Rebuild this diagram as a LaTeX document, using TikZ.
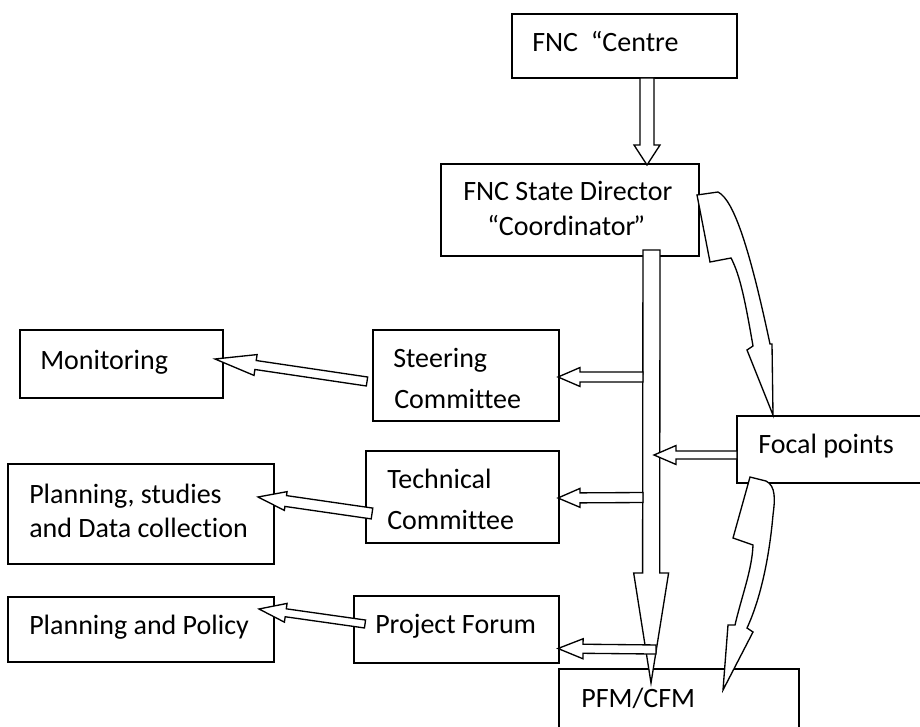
\documentclass[tikz,border=0pt]{standalone}
\usepackage{fontspec}
\setmainfont{Carlito}[Ligatures={NoCommon}]
\usetikzlibrary{calc,fit}
\newcommand\barrow[5]{%
  \coordinate (bah) at ($(#2)!#5!(#1)$);
  \draw[arrowbody] ($(#1)!#3!90:(#2)$) -- ($(bah)!#3!90:(#2)$) -- ($(bah)!#4!90:(#2)$) -- (#2) -- ($(bah)!#4!-90:(#2)$) -- ($(bah)!#3!-90:(#2)$) -- ($(#1)!#3!-90:(#2)$) -- cycle;}
\begin{document}
\begin{tikzpicture}[x=0.75pt,y=-0.75pt,
  box/.style={draw=black,line width=1pt,inner sep=0pt,fill=white},
  label/.style={inner sep=0pt,anchor=base west,font=\fontsize{21}{25}\selectfont},
  arrowbody/.style={draw=black,line width=1pt,fill=white,line join=miter}]
\useasboundingbox (0,0) rectangle (920,727);
% boxes
\node[box,fit={(512,14) (737,78)}] (centre) {};
\node[box,fit={(441,164) (699,256)}] (director) {};
\node[box,fit={(373,330) (559,421)}] (steering) {};
\node[box,fit={(366,451) (559,543)}] (technical) {};
\node[box,fit={(354,596) (559,663)}] (forum) {};
\node[box,fit={(20,330) (223,398)}] (monitoring) {};
\node[box,fit={(8,464) (274,564)}] (planstud) {};
\node[box,fit={(8,597) (274,662)}] (planpol) {};
\node[box,fit={(737,416) (935,483)}] (focal) {};
\node[box,fit={(559,669) (799,745)}] (pfm) {};
% texts
\node[label] (t-centre) at (532,52) {FNC \ “Centre};
\node[label] (t-dir1) at (463,201) {FNC State Director};
\node[label] (t-dir2) at (487,236) {“Coordinator\kern-1.5pt”};
\node[label] (t-st1) at (393,367) {Steering};
\node[label] (t-st2) at (394,408) {Committee};
\node[label] (t-te1) at (387,488) {Technical};
\node[label] (t-te2) at (387,529) {Committee};
\node[label] (t-pf) at (375,633) {Project Forum};
\node[label] (t-mon) at (40,369) {Monitoring};
\node[label] (t-ps1) at (29,503) {Planning, studies};
\node[label] (t-ps2) at (29,537) {and Data collection};
\node[label] (t-pp) at (29,634) {Planning and Policy};
\node[label] (t-foc) at (758,453) {Focal points};
\node[label] (t-pfm) at (581,707) {PFM/CFM};
% connector end points
\coordinate (a1s) at (647,78);     \coordinate (a1e) at (647,165);
\coordinate (mvs) at (651.5,250);  \coordinate (mve) at (651,683);
\coordinate (sts) at (643,377);    \coordinate (ste) at (558,377);
\coordinate (tes) at (643,497.5);  \coordinate (tee) at (558,498);
\coordinate (pfs) at (656,649.5);  \coordinate (pfe) at (558,648.5);
\coordinate (fos) at (737,455);    \coordinate (foe) at (654,455);
\coordinate (mos) at (367,381.5);  \coordinate (moe) at (215,359);
\coordinate (tls) at (372,513.5);  \coordinate (tle) at (258,497);
\coordinate (pls) at (365,624);    \coordinate (ple) at (259,609);
% block arrows
\barrow{a1s}{a1e}{5.25pt}{9.75pt}{15pt}
\barrow{mvs}{mve}{6.4pt}{13.1pt}{82.5pt}
\barrow{sts}{ste}{3.75pt}{7.1pt}{16.5pt}
\barrow{tes}{tee}{3.75pt}{7.1pt}{16.5pt}
\barrow{pfs}{pfe}{3.4pt}{7.5pt}{18.75pt}
\barrow{fos}{foe}{3pt}{7.1pt}{16.5pt}
\barrow{mos}{moe}{3.4pt}{7.9pt}{30.75pt}
\barrow{tls}{tle}{4.1pt}{7.1pt}{21pt}
\barrow{pls}{ple}{3pt}{7.1pt}{20.25pt}
% lightning arrows
\draw[arrowbody] (697,195) -- (718,192) .. controls (734,200) and (750,250) .. (770,344)
  -- (772,344) -- (773,415) -- (747,350) -- (753,346)
  .. controls (745,300) and (740,275) .. (731,258) -- (710,262) -- cycle;
\draw[arrowbody] (750,477) -- (766,481) .. controls (776,486) and (775,500) .. (773,515)
  .. controls (769,560) and (760,600) .. (747,628) -- (753,632) -- (723,690) -- (728,625)
  -- (735,625) .. controls (742,595) and (752,570) .. (753,545) -- (733,538) -- cycle;
\end{tikzpicture}
\end{document}
